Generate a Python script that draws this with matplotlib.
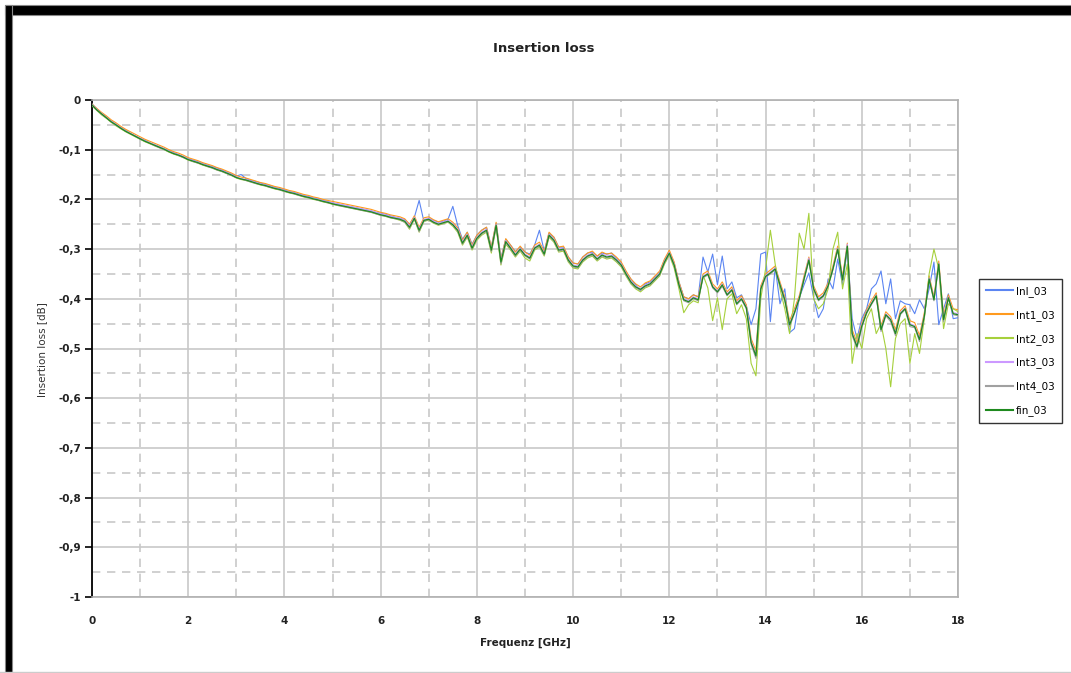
import numpy as np
import matplotlib
matplotlib.use("Agg")
import matplotlib.pyplot as plt
from matplotlib.patches import Rectangle
from matplotlib.ticker import MultipleLocator, FixedLocator, FixedFormatter

# frequency grid, 0.1 GHz steps
freq = np.arange(181) / 10.0

inl_03 = [
    -0.008, -0.018, -0.027, -0.034, -0.042, -0.049, -0.055, -0.061, -0.067, -0.072,
    -0.077, -0.081, -0.086, -0.090, -0.094, -0.098, -0.102, -0.106, -0.110, -0.114,
    -0.118, -0.121, -0.124, -0.128, -0.131, -0.134, -0.137, -0.141, -0.145, -0.149,
    -0.153, -0.150, -0.158, -0.162, -0.164, -0.167, -0.170, -0.172, -0.176, -0.178,
    -0.181, -0.184, -0.186, -0.189, -0.192, -0.194, -0.197, -0.199, -0.202, -0.204,
    -0.207, -0.209, -0.211, -0.213, -0.215, -0.217, -0.219, -0.221, -0.223, -0.226,
    -0.228, -0.230, -0.233, -0.236, -0.238, -0.241, -0.250, -0.236, -0.202, -0.245,
    -0.238, -0.242, -0.246, -0.244, -0.240, -0.214, -0.252, -0.280, -0.266, -0.290,
    -0.272, -0.262, -0.256, -0.296, -0.248, -0.318, -0.280, -0.292, -0.305, -0.296,
    -0.306, -0.310, -0.292, -0.262, -0.304, -0.268, -0.276, -0.296, -0.296, -0.316,
    -0.328, -0.330, -0.316, -0.308, -0.306, -0.314, -0.308, -0.310, -0.308, -0.318,
    -0.328, -0.346, -0.360, -0.372, -0.384, -0.370, -0.366, -0.356, -0.346, -0.322,
    -0.306, -0.328, -0.366, -0.396, -0.400, -0.392, -0.396, -0.316, -0.346, -0.310,
    -0.372, -0.314, -0.380, -0.366, -0.398, -0.392, -0.414, -0.452, -0.420, -0.310,
    -0.306, -0.446, -0.336, -0.410, -0.380, -0.468, -0.460, -0.398, -0.372, -0.348,
    -0.398, -0.438, -0.420, -0.360, -0.380, -0.320, -0.372, -0.300, -0.440, -0.480,
    -0.440, -0.420, -0.380, -0.370, -0.344, -0.410, -0.360, -0.440, -0.404, -0.410,
    -0.412, -0.430, -0.402, -0.420, -0.380, -0.326, -0.452, -0.420, -0.390, -0.440,
    -0.438,
]

int1_03 = [
    -0.008, -0.017, -0.025, -0.032, -0.040, -0.046, -0.053, -0.059, -0.064, -0.069,
    -0.074, -0.079, -0.083, -0.087, -0.091, -0.095, -0.100, -0.104, -0.107, -0.111,
    -0.116, -0.119, -0.122, -0.126, -0.129, -0.132, -0.136, -0.139, -0.143, -0.147,
    -0.152, -0.155, -0.157, -0.160, -0.163, -0.166, -0.168, -0.171, -0.174, -0.176,
    -0.179, -0.182, -0.184, -0.187, -0.190, -0.192, -0.195, -0.197, -0.200, -0.202,
    -0.204, -0.206, -0.208, -0.210, -0.212, -0.214, -0.216, -0.218, -0.220, -0.223,
    -0.226, -0.228, -0.231, -0.233, -0.235, -0.239, -0.250, -0.233, -0.256, -0.237,
    -0.235, -0.241, -0.245, -0.242, -0.239, -0.246, -0.257, -0.282, -0.266, -0.292,
    -0.272, -0.262, -0.256, -0.296, -0.246, -0.320, -0.279, -0.292, -0.306, -0.294,
    -0.306, -0.312, -0.292, -0.286, -0.304, -0.266, -0.276, -0.296, -0.294, -0.316,
    -0.328, -0.330, -0.316, -0.308, -0.304, -0.314, -0.306, -0.310, -0.308, -0.316,
    -0.326, -0.344, -0.360, -0.370, -0.376, -0.368, -0.364, -0.354, -0.344, -0.320,
    -0.302, -0.326, -0.366, -0.396, -0.400, -0.392, -0.396, -0.350, -0.344, -0.370,
    -0.380, -0.366, -0.386, -0.376, -0.404, -0.394, -0.412, -0.480, -0.505, -0.374,
    -0.350, -0.342, -0.334, -0.366, -0.396, -0.444, -0.420, -0.394, -0.354, -0.316,
    -0.374, -0.396, -0.388, -0.368, -0.334, -0.294, -0.356, -0.288, -0.462, -0.488,
    -0.448, -0.422, -0.404, -0.388, -0.454, -0.426, -0.436, -0.462, -0.424, -0.414,
    -0.444, -0.448, -0.474, -0.428, -0.354, -0.396, -0.324, -0.434, -0.392, -0.420,
    -0.422,
]

int2_03 = [
    -0.012, -0.021, -0.030, -0.037, -0.045, -0.052, -0.058, -0.064, -0.069, -0.074,
    -0.079, -0.084, -0.088, -0.092, -0.096, -0.100, -0.105, -0.109, -0.112, -0.116,
    -0.121, -0.124, -0.127, -0.131, -0.134, -0.137, -0.141, -0.144, -0.148, -0.152,
    -0.157, -0.160, -0.162, -0.165, -0.168, -0.171, -0.173, -0.176, -0.179, -0.181,
    -0.184, -0.187, -0.189, -0.192, -0.195, -0.197, -0.200, -0.202, -0.205, -0.207,
    -0.210, -0.212, -0.214, -0.216, -0.218, -0.220, -0.222, -0.224, -0.226, -0.229,
    -0.232, -0.234, -0.237, -0.239, -0.242, -0.246, -0.260, -0.240, -0.266, -0.244,
    -0.242, -0.248, -0.252, -0.249, -0.246, -0.254, -0.266, -0.292, -0.276, -0.302,
    -0.282, -0.272, -0.266, -0.308, -0.256, -0.332, -0.290, -0.302, -0.316, -0.304,
    -0.318, -0.324, -0.302, -0.296, -0.314, -0.276, -0.286, -0.306, -0.304, -0.326,
    -0.338, -0.340, -0.326, -0.318, -0.314, -0.324, -0.316, -0.320, -0.318, -0.326,
    -0.336, -0.354, -0.370, -0.380, -0.386, -0.378, -0.374, -0.364, -0.354, -0.330,
    -0.312, -0.338, -0.380, -0.428, -0.412, -0.404, -0.408, -0.352, -0.378, -0.444,
    -0.398, -0.462, -0.400, -0.390, -0.430, -0.412, -0.440, -0.530, -0.555, -0.400,
    -0.340, -0.262, -0.330, -0.380, -0.420, -0.470, -0.400, -0.268, -0.300, -0.228,
    -0.400, -0.420, -0.410, -0.380, -0.300, -0.266, -0.380, -0.330, -0.530, -0.470,
    -0.500, -0.440, -0.420, -0.470, -0.450, -0.500, -0.577, -0.480, -0.450, -0.440,
    -0.530, -0.470, -0.510, -0.440, -0.350, -0.300, -0.340, -0.460, -0.410, -0.420,
    -0.426,
]

int3_03 = [
    -0.009, -0.019, -0.027, -0.035, -0.043, -0.049, -0.056, -0.062, -0.067, -0.072,
    -0.077, -0.082, -0.086, -0.090, -0.094, -0.098, -0.103, -0.107, -0.110, -0.114,
    -0.119, -0.122, -0.125, -0.129, -0.132, -0.135, -0.139, -0.142, -0.146, -0.150,
    -0.155, -0.158, -0.160, -0.163, -0.166, -0.169, -0.171, -0.174, -0.177, -0.179,
    -0.182, -0.185, -0.187, -0.190, -0.193, -0.195, -0.198, -0.200, -0.203, -0.205,
    -0.207, -0.209, -0.211, -0.213, -0.215, -0.217, -0.219, -0.221, -0.223, -0.226,
    -0.229, -0.231, -0.234, -0.236, -0.238, -0.242, -0.253, -0.236, -0.259, -0.240,
    -0.238, -0.244, -0.248, -0.245, -0.242, -0.249, -0.260, -0.285, -0.270, -0.295,
    -0.276, -0.266, -0.260, -0.300, -0.250, -0.323, -0.283, -0.296, -0.310, -0.298,
    -0.310, -0.316, -0.296, -0.290, -0.308, -0.270, -0.280, -0.300, -0.298, -0.320,
    -0.332, -0.334, -0.320, -0.312, -0.308, -0.318, -0.310, -0.314, -0.312, -0.320,
    -0.330, -0.348, -0.364, -0.374, -0.379, -0.372, -0.368, -0.358, -0.348, -0.324,
    -0.306, -0.330, -0.370, -0.400, -0.404, -0.396, -0.400, -0.354, -0.348, -0.374,
    -0.384, -0.370, -0.390, -0.380, -0.408, -0.398, -0.416, -0.485, -0.512, -0.378,
    -0.353, -0.346, -0.338, -0.370, -0.400, -0.450, -0.426, -0.398, -0.358, -0.318,
    -0.378, -0.400, -0.392, -0.372, -0.338, -0.298, -0.360, -0.290, -0.468, -0.494,
    -0.452, -0.426, -0.408, -0.392, -0.460, -0.430, -0.440, -0.468, -0.428, -0.418,
    -0.450, -0.454, -0.480, -0.433, -0.358, -0.400, -0.328, -0.440, -0.396, -0.428,
    -0.430,
]

int4_03 = [
    -0.011, -0.020, -0.029, -0.036, -0.044, -0.051, -0.057, -0.063, -0.068, -0.073,
    -0.079, -0.083, -0.087, -0.092, -0.096, -0.100, -0.104, -0.108, -0.112, -0.116,
    -0.120, -0.124, -0.127, -0.130, -0.134, -0.137, -0.141, -0.144, -0.148, -0.152,
    -0.156, -0.159, -0.162, -0.165, -0.168, -0.170, -0.173, -0.176, -0.178, -0.181,
    -0.184, -0.186, -0.189, -0.192, -0.194, -0.197, -0.199, -0.202, -0.204, -0.207,
    -0.209, -0.212, -0.214, -0.216, -0.218, -0.220, -0.222, -0.224, -0.226, -0.229,
    -0.232, -0.234, -0.237, -0.239, -0.241, -0.246, -0.258, -0.239, -0.265, -0.243,
    -0.241, -0.247, -0.251, -0.248, -0.245, -0.252, -0.264, -0.290, -0.274, -0.300,
    -0.280, -0.270, -0.264, -0.305, -0.254, -0.330, -0.287, -0.300, -0.314, -0.302,
    -0.314, -0.320, -0.300, -0.294, -0.312, -0.274, -0.284, -0.304, -0.302, -0.324,
    -0.336, -0.338, -0.324, -0.316, -0.312, -0.322, -0.314, -0.318, -0.316, -0.324,
    -0.334, -0.352, -0.368, -0.378, -0.383, -0.376, -0.372, -0.362, -0.352, -0.328,
    -0.310, -0.334, -0.374, -0.404, -0.408, -0.400, -0.404, -0.358, -0.352, -0.378,
    -0.388, -0.375, -0.394, -0.384, -0.412, -0.402, -0.420, -0.492, -0.520, -0.382,
    -0.357, -0.350, -0.342, -0.374, -0.404, -0.456, -0.430, -0.402, -0.362, -0.324,
    -0.382, -0.404, -0.396, -0.376, -0.342, -0.302, -0.364, -0.296, -0.474, -0.500,
    -0.458, -0.430, -0.412, -0.396, -0.466, -0.434, -0.446, -0.474, -0.432, -0.422,
    -0.456, -0.458, -0.486, -0.437, -0.362, -0.404, -0.332, -0.446, -0.400, -0.432,
    -0.434,
]

fin_03 = [
    -0.010, -0.020, -0.028, -0.036, -0.044, -0.050, -0.057, -0.063, -0.068, -0.073,
    -0.078, -0.083, -0.087, -0.091, -0.095, -0.099, -0.104, -0.108, -0.111, -0.115,
    -0.120, -0.123, -0.126, -0.130, -0.133, -0.136, -0.140, -0.143, -0.147, -0.151,
    -0.156, -0.159, -0.161, -0.164, -0.167, -0.170, -0.172, -0.175, -0.178, -0.180,
    -0.183, -0.186, -0.188, -0.191, -0.194, -0.196, -0.199, -0.201, -0.204, -0.206,
    -0.209, -0.211, -0.213, -0.215, -0.217, -0.219, -0.221, -0.223, -0.225, -0.228,
    -0.231, -0.233, -0.236, -0.238, -0.240, -0.244, -0.256, -0.238, -0.262, -0.242,
    -0.240, -0.246, -0.250, -0.247, -0.244, -0.251, -0.262, -0.288, -0.272, -0.298,
    -0.278, -0.268, -0.262, -0.302, -0.252, -0.326, -0.285, -0.298, -0.312, -0.300,
    -0.312, -0.318, -0.298, -0.292, -0.310, -0.272, -0.282, -0.302, -0.300, -0.322,
    -0.334, -0.336, -0.322, -0.314, -0.310, -0.320, -0.312, -0.316, -0.314, -0.322,
    -0.332, -0.350, -0.366, -0.376, -0.381, -0.374, -0.370, -0.360, -0.350, -0.326,
    -0.308, -0.332, -0.372, -0.402, -0.406, -0.398, -0.402, -0.356, -0.350, -0.376,
    -0.386, -0.372, -0.392, -0.382, -0.410, -0.400, -0.418, -0.488, -0.515, -0.380,
    -0.355, -0.348, -0.340, -0.372, -0.402, -0.452, -0.428, -0.400, -0.360, -0.322,
    -0.380, -0.402, -0.394, -0.374, -0.340, -0.300, -0.362, -0.294, -0.470, -0.496,
    -0.455, -0.428, -0.410, -0.394, -0.462, -0.432, -0.442, -0.470, -0.430, -0.420,
    -0.452, -0.456, -0.482, -0.435, -0.360, -0.402, -0.330, -0.442, -0.398, -0.430,
    -0.432,
]

series_names = ["Inl_03", "Int1_03", "Int2_03", "Int3_03", "Int4_03", "fin_03"]
series_colors = ["#5b85f2", "#ff9a1e", "#a6d03c", "#cc99ff", "#a0a0a0", "#1f8a1f"]

y_ticks = [0, -0.1, -0.2, -0.3, -0.4, -0.5, -0.6, -0.7, -0.8, -0.9, -1]
y_tick_labels = ["0", "-0,1", "-0,2", "-0,3", "-0,4", "-0,5", "-0,6", "-0,7", "-0,8", "-0,9", "-1"]

W, H = 1071, 673
fig = plt.figure(figsize=(W / 100, H / 100), dpi=100)
ax = fig.add_axes([92 / W, 1 - 597 / H, (958 - 92) / W, (597 - 100) / H])

data = [inl_03, int1_03, int2_03, int3_03, int4_03, fin_03]
widths = [0.8, 0.8, 0.8, 0.8, 0.8, 0.9]
for vals, name, col, lw in zip(data, series_names, series_colors, widths):
    ax.plot(freq, vals, color=col, lw=lw, label=name, zorder=3)

ax.set_xlim(0, 18)
ax.set_ylim(-1, 0)
ax.xaxis.set_major_locator(MultipleLocator(2))
ax.xaxis.set_minor_locator(MultipleLocator(1))
ax.yaxis.set_major_locator(FixedLocator(y_ticks))
ax.yaxis.set_major_formatter(FixedFormatter(y_tick_labels))
ax.yaxis.set_minor_locator(MultipleLocator(0.05))

ax.grid(which="major", color="#c8c8c8", lw=1.2, ls="-", zorder=0)
ax.grid(which="minor", color="#c8c8c8", lw=1.2, ls=(0, (5, 4)), zorder=0)

for s in ["top", "right", "bottom"]:
    ax.spines[s].set_color("#b0b0b0")
    ax.spines[s].set_linewidth(1.2)
ax.spines["left"].set_color("black")
ax.spines["left"].set_linewidth(1.3)

ax.tick_params(axis="y", which="major", direction="out", length=5, width=1.2,
               color="black", labelsize=7.5, pad=3)
ax.tick_params(axis="y", which="minor", length=0)
ax.tick_params(axis="x", which="both", length=0, labelsize=7.5, pad=14)
for lab in ax.get_xticklabels() + ax.get_yticklabels():
    lab.set_fontweight("bold")
    lab.set_color("#222222")

ax.set_xlabel("Frequenz [GHz]", fontsize=7.5, fontweight="bold", labelpad=8, color="#222222")
fig.text(42 / W, 1 - 350 / H, "Insertion loss [dB]", rotation=90, ha="center",
         va="center", fontsize=7.5, color="#333333")
fig.text(544 / W, 1 - 48 / H, "Insertion loss", ha="center", va="center",
         fontsize=9.5, fontweight="bold", color="#222222")

leg = fig.legend(loc="upper left", bbox_to_anchor=(979 / W, 1 - 279 / H),
                 fontsize=7.5, frameon=True, fancybox=False, handlelength=2.6,
                 handletextpad=0.3, labelspacing=1.25, borderpad=0.65,
                 borderaxespad=0)
leg.get_frame().set_edgecolor("black")
leg.get_frame().set_linewidth(1.0)
for line in leg.get_lines():
    line.set_linewidth(1.5)

# thick black frame at top and left of the sheet
fig.patches.append(Rectangle((5 / W, 1 - 15 / H), 1 - 5 / W, 10 / H,
                             transform=fig.transFigure, facecolor="black",
                             edgecolor="#888888", lw=0.8))
fig.patches.append(Rectangle((5 / W, 0), 7 / W, 1 - 5 / H,
                             transform=fig.transFigure, facecolor="black",
                             edgecolor="#888888", lw=0.8))
fig.add_artist(plt.Line2D([0, 1], [1.5 / H, 1.5 / H], transform=fig.transFigure,
                          color="#cccccc", lw=1))

fig.savefig("out.png", dpi=100)
